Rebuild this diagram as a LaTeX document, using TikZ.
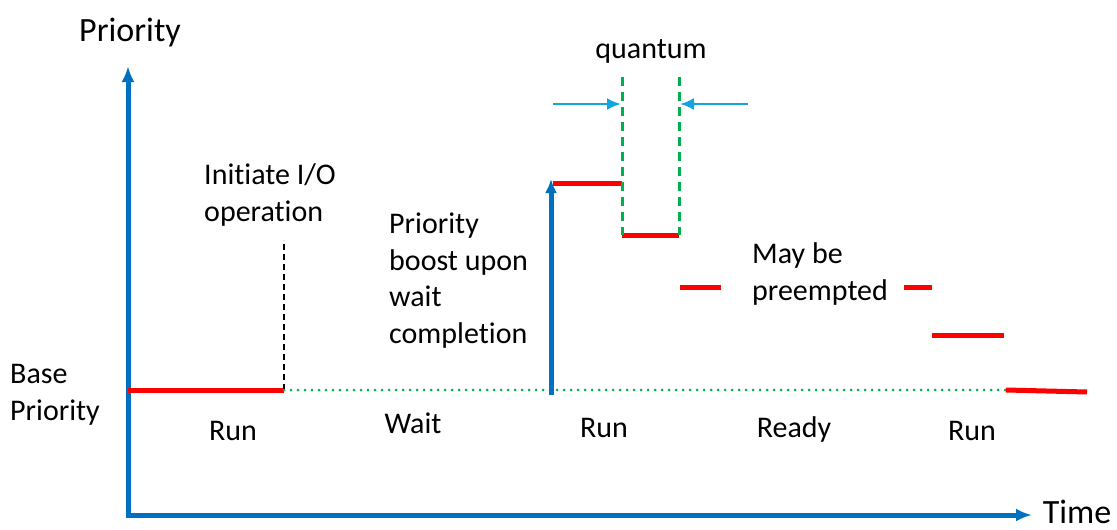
\documentclass[tikz,border=0pt]{standalone}
\usepackage{fontspec}
\setmainfont{Carlito}[Ligatures=NoCommon]
\usetikzlibrary{
  calc,
  positioning,
  arrows.meta
}
\definecolor{axisblue}{RGB}{0,112,192}
\definecolor{quantblue}{RGB}{20,165,225}
\definecolor{quantgreen}{RGB}{0,176,80}
\definecolor{runred}{RGB}{255,0,0}

\begin{document}
\begin{tikzpicture}[>=Latex, x=1pt, y=-1pt]
  \tikzset{
    axis/.style={
      line width=5pt, color=axisblue,
      -{Latex[length=16pt,width=13pt]}
    },
    runline/.style={line width=5pt, color=runred},
    waitline/.style={line width=3pt, color=quantgreen,
      line cap=round, dash pattern=on 0pt off 7pt},
    quantline/.style={line width=3pt, color=quantgreen,
      dash pattern=on 9pt off 6pt},
    quantarrow/.style={line width=2.5pt, color=quantblue,
      -{Latex[length=14pt,width=12pt]}},
    lbl/.style={inner sep=0pt, anchor=base west, align=left,
      font=\fontsize{30pt}{36.5pt}\selectfont},
    state/.style={inner sep=0pt, anchor=base,
      font=\fontsize{30pt}{36pt}\selectfont},
    axislbl/.style={inner sep=0pt, anchor=base,
      font=\fontsize{34pt}{40pt}\selectfont},
  }
  \useasboundingbox (0,0) rectangle (1117,530);

  % axes
  \coordinate (origin) at (128,515);
  \coordinate (ytip) at (128,66);
  \coordinate (xtip) at (1032,515);
  \draw[axis] (origin) -- (ytip);
  \draw[axis] ([xshift=-2.5pt]origin) -- (xtip);
  \node[axislbl] (ylabel) at (130,41) {Priority};
  \node[axislbl] (xlabel) at (1077,523) {Time};

  % base priority level
  \coordinate (base0) at (128,390);
  \coordinate (io) at (284,390);
  \coordinate (boost0) at (551,390);
  \coordinate (base1) at (1006,390);
  \coordinate (base2) at (1087,392);
  \coordinate (iotop) at (284,240);

  \draw[runline] (base0) -- (io);
  \draw[dashed, line width=1.3pt, dash pattern=on 6pt off 4pt] (io) -- (iotop);
  \draw[waitline] (io) -- (base1);
  \draw[runline] (base1) -- (base2);

  % boost and decay
  \coordinate (boost1) at (551,179);
  \draw[axis, -{Latex[length=14pt,width=12pt]}] ([yshift=-5pt]boost0) -- (boost1);

  \coordinate (q0) at (622,183);
  \coordinate (q1) at (622,235);
  \coordinate (q2) at (679,235);
  \coordinate (q0top) at (622,77);
  \coordinate (q2top) at (679,77);
  \draw[runline] (553,183) -- (q0);
  \draw[runline] (q1) -- (q2);
  \draw[quantline] (q0top) -- (q1);
  \draw[quantline] (q2top) -- (q2);

  % quantum width markers
  \draw[quantarrow] (553,104) -- ([xshift=-1pt]q0top |- 0,104);
  \draw[quantarrow] (748,104) -- ([xshift=1pt]q2top |- 0,104);
  \node[state] (quantum) at (651,58) {quantum};

  % lower priority steps
  \draw[runline] (680,287) -- (721,287);
  \draw[runline] (904,287) -- (932,287);
  \draw[runline] (932,335) -- (1004,335);

  % labels (base = last line)
  \node[lbl] (initio) at (204,221) {Initiate I/O\\operation};
  \node[lbl] (boost) at (389,343) {Priority\\boost upon\\wait\\completion};
  \node[lbl] (preempt) at (752,300) {May be\\preempted};
  \node[lbl] (basep) at (10,420) {Base\\Priority};

  \node[state] (run1) at (233,440) {Run};
  \node[state] (wait) at (413,433) {Wait};
  \node[state] (run2) at (604,437) {Run};
  \node[state] (ready) at (794,437) {Ready};
  \node[state] (run3) at (972,440) {Run};
\end{tikzpicture}
\end{document}
